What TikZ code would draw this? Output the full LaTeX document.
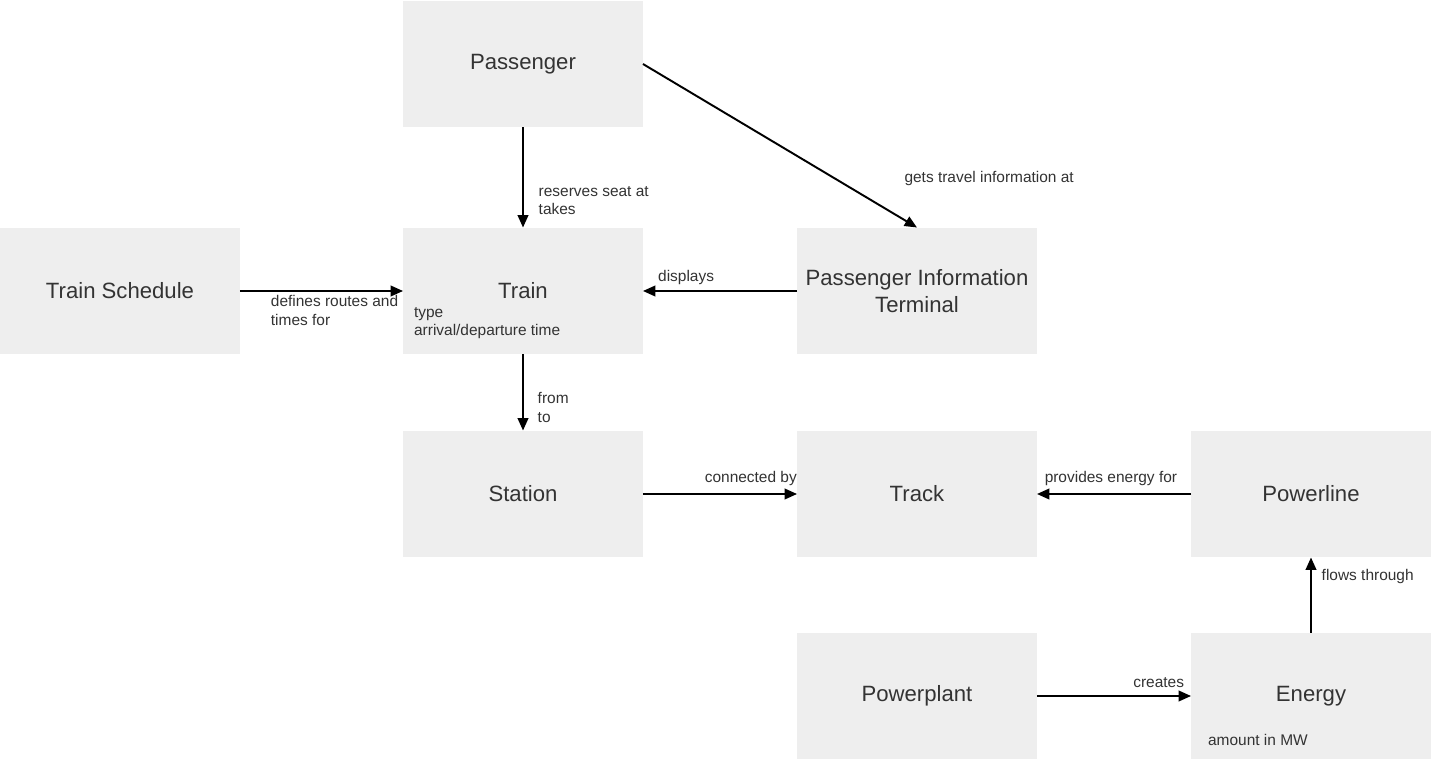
\documentclass[tikz,border=0pt]{standalone}
\usepackage{fontspec}
\setmainfont{Liberation Sans}
\usepackage{xcolor}
\usetikzlibrary{arrows.meta,positioning}
\definecolor{railink}{HTML}{333333}
\definecolor{railbox}{HTML}{EEEEEE}

\begin{document}
\begin{tikzpicture}[x=0.02cm,y=-0.02cm,>={Triangle[length=7pt,width=6pt]},
    entity/.style={fill=railbox,draw=none,minimum width=4.8cm,minimum height=2.54cm,
      inner sep=0pt,outer sep=0pt,text=railink,align=center,
      font=\fontsize{12.6}{15.3}\selectfont},
    rel/.style={->,line width=1.1pt,black},
    lbl/.style={text=railink,align=left,inner sep=1pt,font=\fontsize{8.8}{10.5}\selectfont}]
    \useasboundingbox (0,0) rectangle (1431,763);
    \node[entity] (passenger) at (523,64) {Passenger};
    \node[entity] (schedule) at (120,291) {Train Schedule};
    \node[entity] (train) at (523,291) {Train};
    \node[entity] (terminal) at (917,291) {Passenger Information\\Terminal};
    \node[entity] (station) at (523,494) {Station};
    \node[entity] (track) at (917,494) {Track};
    \node[entity] (powerline) at (1311,494) {Powerline};
    \node[entity] (powerplant) at (917,696) {Powerplant};
    \node[entity] (energy) at (1311,696) {Energy};
    % attributes inside the boxes
    \node[lbl,anchor=west] (trainattr) at (412,323) {type\\arrival/departure time};
    \node[lbl,anchor=west] (energyattr) at (1206,740) {amount in MW};
    % relations
    \draw[rel] (passenger)--(train) node[lbl,pos=0.73,anchor=west,xshift=0.26cm]{reserves seat at\\takes};
    \draw[rel] (passenger.east)--(terminal.north) node[lbl,pos=0.7,anchor=west,xshift=1.34cm]{gets travel information at};
    \draw[rel] (schedule)--(train) node[lbl,pos=0.58,below=1pt]{defines routes and\\times for};
    \draw[rel] (terminal)--(train) node[lbl,pos=0.72,above=2pt]{displays};
    \draw[rel] (train)--(station) node[lbl,pos=0.7,anchor=west,xshift=0.24cm]{from\\to};
    \draw[rel] (station)--(track) node[lbl,pos=0.7,above=3pt]{connected by};
    \draw[rel] (powerline)--(track) node[lbl,pos=0.52,above=3pt]{provides energy for};
    \draw[rel] (energy)--(powerline) node[lbl,pos=0.75,anchor=west,xshift=0.16cm]{flows through};
    \draw[rel] (powerplant)--(energy) node[lbl,pos=0.79,above=3pt]{creates};
  \end{tikzpicture}
\end{document}
